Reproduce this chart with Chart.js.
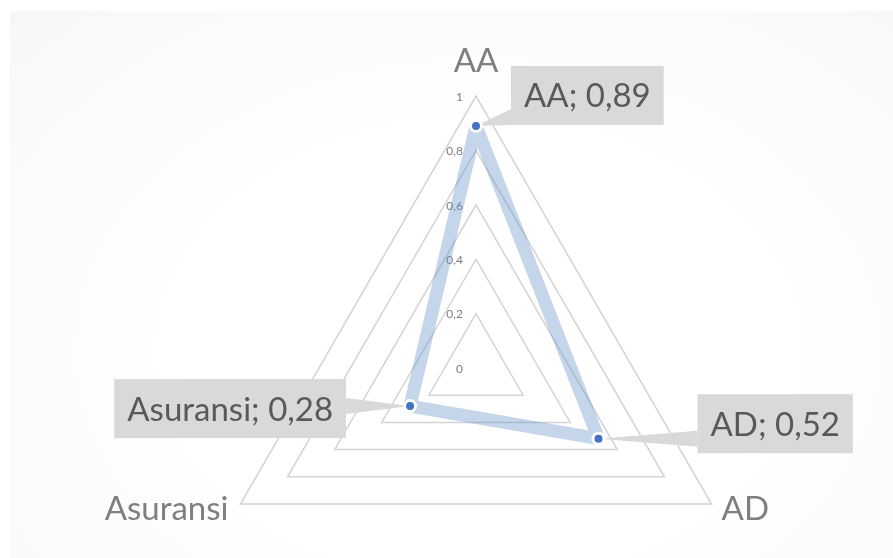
<!DOCTYPE html>
<html>
<head>
<meta charset="utf-8">
<script src="https://cdn.jsdelivr.net/npm/chart.js@4.4.1/dist/chart.umd.min.js"></script>
<style>
  html, body { margin: 0; padding: 0; background: #ffffff; overflow: hidden; }
  #wrap { position: relative; width: 893px; height: 558px; overflow: hidden; background: #ffffff; }
  #bg { position: absolute; left: 10px; top: 11px; right: 0; bottom: 0;
        background: radial-gradient(ellipse at 53% 62%, #ffffff 45%, #f7f7f7 100%); }
  canvas { position: absolute; left: 0; top: 0; }
</style>
</head>
<body>
<div id="wrap">
  <div id="bg"></div>
  <canvas id="chart" width="893" height="700"></canvas>
</div>
<script>
// Radar categories and their scores
const categories = ['AA', 'AD', 'Asuransi'];
const scores = [0.89, 0.52, 0.28];

// Radial axis ticks
const tickValues = [0, 0.2, 0.4, 0.6, 0.8, 1];
const tickLabels = ['0', '0,2', '0,4', '0,6', '0,8', '1'];

// Typography and colours
const FONT = 'Lato, "Open Sans", sans-serif';
const AXIS_TEXT = '#7f7f7f';
const CALLOUT_TEXT = '#595959';
const CALLOUT_FILL = '#d9d9d9';

// Where each category name sits relative to its outer vertex
const pointLabelOffsets = [
  { dx: 0,   dy: -24, align: 'center' },
  { dx: 10,  dy: 16,  align: 'left' },
  { dx: -12, dy: 16,  align: 'right' }
];

// Callout box placement relative to each data point
// side: 1 = box to the right of the point, -1 = to the left
const calloutPlacement = [
  { side: 1,  gap: 35, dy: -30.5 },
  { side: 1,  gap: 99, dy: -15 },
  { side: -1, gap: 64, dy: 2.5 }
];

const fmt = v => String(v).replace('.', ',');

function calloutBoxes(chart) {
  const ctx = chart.ctx;
  const meta = chart.getDatasetMeta(0);
  ctx.save();
  ctx.font = '33px ' + FONT;
  const out = meta.data.map((pt, i) => {
    const text = categories[i] + '; ' + fmt(scores[i]);
    const w = ctx.measureText(text).width + 26;
    const h = 59;
    const pl = calloutPlacement[i];
    const cy = pt.y + pl.dy;
    const left = pl.side > 0 ? pt.x + pl.gap : pt.x - pl.gap - w;
    const top = cy - h / 2;
    const edgeX = pl.side > 0 ? left : left + w;
    let y0 = pt.y - 8, y1 = pt.y + 8;
    if (y1 > top + h) { y1 = top + h; y0 = y1 - 16; }
    if (y0 < top) { y0 = top; y1 = top + 16; }
    return { text, left, top, w, h, edgeX, y0, y1, px: pt.x, py: pt.y };
  });
  ctx.restore();
  return out;
}

const annotate = {
  id: 'annotate',
  beforeDatasetsDraw(chart) {
    const ctx = chart.ctx;
    const r = chart.scales.r;
    ctx.save();

    // value ticks, right-aligned beside the vertical axis
    ctx.font = '12px ' + FONT;
    ctx.fillStyle = AXIS_TEXT;
    ctx.textAlign = 'right';
    ctx.textBaseline = 'middle';
    tickValues.forEach((v, i) => {
      const y = r.yCenter - r.getDistanceFromCenterForValue(v);
      ctx.fillText(tickLabels[i], r.xCenter - 13, y + 1);
    });

    // category names at the outer vertices
    ctx.font = '33px ' + FONT;
    ctx.textBaseline = 'alphabetic';
    categories.forEach((c, i) => {
      const p = r.getPointPosition(i, r.drawingArea);
      const o = pointLabelOffsets[i];
      ctx.textAlign = o.align;
      ctx.fillText(c, p.x + o.dx, p.y + o.dy);
    });

    // callout pointers
    ctx.fillStyle = CALLOUT_FILL;
    calloutBoxes(chart).forEach(b => {
      ctx.beginPath();
      ctx.moveTo(b.edgeX, b.y0);
      ctx.lineTo(b.px, b.py);
      ctx.lineTo(b.edgeX, b.y1);
      ctx.closePath();
      ctx.fill();
    });
    ctx.restore();
  },
  afterDatasetsDraw(chart) {
    const ctx = chart.ctx;
    ctx.save();
    calloutBoxes(chart).forEach(b => {
      ctx.fillStyle = CALLOUT_FILL;
      ctx.fillRect(b.left, b.top, b.w, b.h);
      ctx.font = '33px ' + FONT;
      ctx.fillStyle = CALLOUT_TEXT;
      ctx.textAlign = 'center';
      ctx.textBaseline = 'alphabetic';
      ctx.fillText(b.text, b.left + b.w / 2, b.top + b.h / 2 + 12);
    });
    ctx.restore();
  }
};

new Chart(document.getElementById('chart'), {
  type: 'radar',
  data: {
    labels: categories,
    datasets: [{
      data: scores,
      borderColor: 'rgba(89,138,195,0.35)',
      borderWidth: 13,
      borderJoinStyle: 'round',
      backgroundColor: 'rgba(0,0,0,0)',
      fill: false,
      tension: 0,
      pointRadius: 5.5,
      pointBorderWidth: 3,
      pointBackgroundColor: '#4472c4',
      pointBorderColor: '#ffffff',
      pointHoverRadius: 5.5
    }]
  },
  options: {
    responsive: false,
    devicePixelRatio: 1,
    animation: false,
    layout: { padding: { left: 59, right: 0, top: 96, bottom: 60 } },
    plugins: { legend: { display: false }, tooltip: { enabled: false } },
    scales: {
      r: {
        min: 0,
        max: 1,
        ticks: { stepSize: 0.2, display: false },
        angleLines: { display: false },
        grid: { color: '#d4d4d4', lineWidth: 1.5 },
        pointLabels: { display: false }
      }
    }
  },
  plugins: [annotate]
});
</script>
</body>
</html>
